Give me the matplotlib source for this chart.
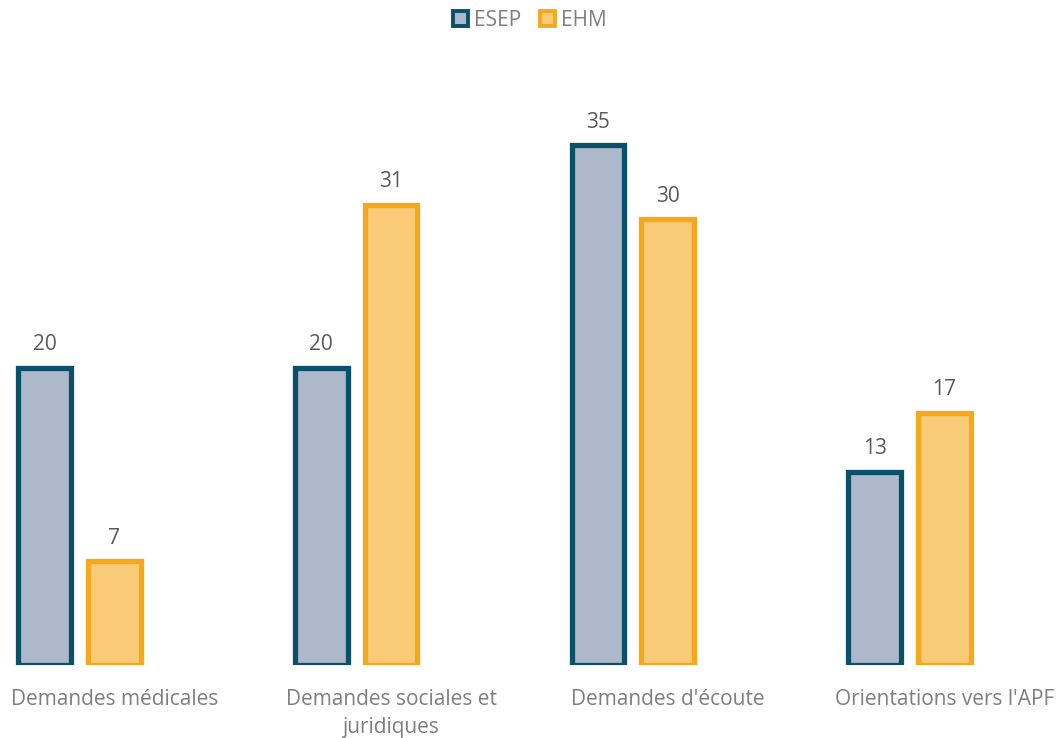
import numpy as np
import matplotlib
matplotlib.use("Agg")
import matplotlib.pyplot as plt

plt.rcParams['font.family'] = ['Open Sans', 'DejaVu Sans']

# données
categories = ["Demandes médicales", "Demandes sociales et\njuridiques",
              "Demandes d'écoute", "Orientations vers l'APF"]
esep = [20, 20, 35, 13]
ehm = [7, 31, 30, 17]

# couleurs
esep_fill, esep_edge = '#adb9ca', '#0b5069'
ehm_fill, ehm_edge = '#f9cb77', '#f5a81c'

fig = plt.figure(figsize=(10.59, 7.38), dpi=100)
ax = fig.add_axes([0, 73 / 738, 1, 594 / 738])

x = np.arange(len(categories))
w = 0.19
off = 0.126

b1 = ax.bar(x - off, esep, w, color=esep_fill, edgecolor=esep_edge, linewidth=3.8, label='ESEP')
b2 = ax.bar(x + off, ehm, w, color=ehm_fill, edgecolor=ehm_edge, linewidth=3.8, label='EHM')

for bars in (b1, b2):
    for r in bars:
        ax.annotate(str(int(r.get_height())), (r.get_x() + r.get_width() / 2, r.get_height()),
                    xytext=(0, 9), textcoords='offset points', ha='center', va='bottom',
                    fontsize=15, color='#595959')

ax.set_xlim(-79.6 / 276.6, (1059 - 79.6) / 276.6)
ax.set_ylim(0, 40)
ax.set_xticks(x + off)
ax.set_xticklabels(categories, fontsize=15, color='#7f7f7f', linespacing=1.45)
ax.tick_params(axis='x', length=0, pad=17)
ax.set_yticks([])
for s in ax.spines.values():
    s.set_visible(False)

leg = fig.legend(loc='upper center', bbox_to_anchor=(0.5, 1.012), ncol=2, frameon=False,
                 fontsize=15, handlelength=0.75, handleheight=0.75, handletextpad=0.25,
                 columnspacing=0.9, labelcolor='#7f7f7f')
for h in leg.legend_handles:
    h.set_linewidth(2.8)

fig.savefig('out.png', dpi=100)
